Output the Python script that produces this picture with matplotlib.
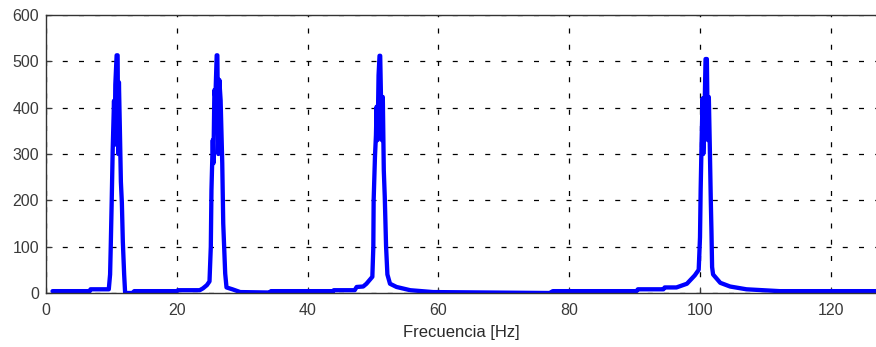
import matplotlib
matplotlib.use("Agg")
import matplotlib.pyplot as plt

# Magnitude spectrum, read as (frequency, |X(f)|) points
freq_hz = [
    1.0, 6.7, 6.8, 9.6,
    9.8, 9.9, 10.05, 10.2, 10.4, 10.5, 10.6, 10.8, 10.95, 11.05, 11.15, 11.3,
    11.45, 11.6, 11.75, 11.95, 12.1,
    13.2, 13.5, 20.0, 20.2, 23.5, 24.0, 24.6,
    25.0, 25.2, 25.3, 25.5, 25.6, 25.75, 25.9, 26.1, 26.2, 26.35, 26.5, 26.7,
    26.95, 27.1, 27.4, 27.6,
    28.5, 29.7, 34.2, 34.4, 43.9, 44.0, 47.2, 47.5, 48.5, 49.0, 49.6, 49.9,
    50.05, 50.1, 50.3, 50.45, 50.55, 50.7, 50.85, 51.0, 51.1, 51.25, 51.35,
    51.5, 51.65, 51.8, 52.0, 52.2,
    52.6, 53.6, 55.7, 59.2, 77.0, 77.5, 90.3, 90.5, 94.4, 94.6, 96.4, 98.0,
    99.2, 99.8,
    100.0, 100.1, 100.25, 100.4, 100.5, 100.65, 100.85, 101.05, 101.2, 101.35,
    101.5, 101.65, 101.75, 101.85,
    102.0, 103.1, 104.6, 107.1, 112.2, 127.5,
]
magnitude = [
    4, 4, 8, 8,
    40, 100, 200, 310, 415, 320, 450, 513, 513, 300, 455, 350,
    240, 195, 110, 40, 0,
    0, 4, 4, 6, 6, 10, 17,
    25, 100, 222, 330, 280, 438, 420, 513, 513, 300, 460, 416,
    280, 150, 42, 12,
    8, 2, 1, 4, 4, 6, 6, 13, 14, 20, 30, 35,
    100, 200, 294, 340, 402, 330, 470, 512, 512, 400, 330,
    423, 265, 207, 100, 40,
    20, 13, 6, 2, 0, 4, 4, 8, 8, 12, 12, 20,
    38, 50,
    120, 222, 330, 420, 300, 360, 505, 505, 330, 423,
    315, 200, 135, 56,
    40, 22, 14, 8, 4, 4,
]

x_ticks = [0, 20, 40, 60, 80, 100, 120]
y_ticks = [0, 100, 200, 300, 400, 500, 600]

plt.rcParams['font.family'] = ['Liberation Sans', 'DejaVu Sans']

fig = plt.figure(figsize=(8.76, 3.47), dpi=100)
W, H = 876, 347
x0, x1 = 46, 46 + 127 * 6.54
y0, y1 = 293, 15
ax = fig.add_axes([x0 / W, (H - y0) / H, (x1 - x0) / W, (y0 - y1) / H])

ax.plot(freq_hz, magnitude, color='#0000ff', linewidth=3.1,
        solid_joinstyle='round', solid_capstyle='round')

ax.set_xlim(0, 127)
ax.set_ylim(0, 600)
ax.set_xticks(x_ticks)
ax.set_yticks(y_ticks)
ax.grid(True, color='black', linewidth=0.9, linestyle=(0, (4, 9)))
ax.set_axisbelow(True)
ax.tick_params(direction='in', length=4, labelsize=11.5, colors='#3a3a3a',
               top=False, right=False)
ax.tick_params(axis='x', pad=7)
ax.tick_params(axis='y', pad=5)
for s in ax.spines.values():
    s.set_color('#333333')
    s.set_linewidth(1.0)

ax.set_xlabel('Frecuencia [Hz]', fontsize=12, color='#2a2a2a', labelpad=5)

fig.savefig('out.png', dpi=100)
